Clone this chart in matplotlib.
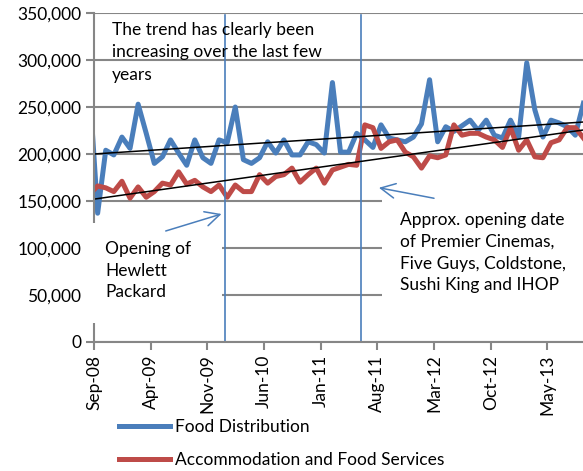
import numpy as np
import pandas as pd
import matplotlib
matplotlib.use('Agg')
import matplotlib.pyplot as plt
from matplotlib.patches import Rectangle
from matplotlib.ticker import StrMethodFormatter

plt.rcParams['font.family'] = ['Lato', 'DejaVu Sans']

# monthly figures Aug-08 .. Sep-13 (Aug-08 sits just left of the axis start)
months = pd.date_range('2008-08-01', '2013-09-01', freq='MS')
food_distribution = [
    270000, 137000, 204000, 199000, 218000, 206000, 253000, 222000, 190000, 197000,
    215000, 201000, 188000, 215000, 196000, 190000, 215000, 212000, 250000, 194000,
    190000, 196000, 213000, 201000, 215000, 199000, 199000, 213000, 210000, 201000,
    276000, 202000, 202000, 222000, 215000, 207000, 231000, 217000, 215000, 213000,
    218000, 232000, 279000, 213000, 229000, 224000, 230000, 236000, 225000, 236000,
    220000, 217000, 236000, 218000, 297000, 247000, 218000, 236000, 233000, 229000,
    220000, 254000,
]
accommodation_food = [
    157000, 166000, 164000, 160000, 171000, 153000, 165000, 154000, 160000, 169000,
    167000, 181000, 168000, 172000, 165000, 160000, 167000, 154000, 167000, 160000,
    160000, 178000, 169000, 176000, 178000, 185000, 170000, 178000, 185000, 169000,
    183000, 186000, 189000, 188000, 231000, 228000, 206000, 213000, 215000, 202000,
    197000, 185000, 198000, 196000, 199000, 231000, 220000, 222000, 222000, 218000,
    215000, 207000, 228000, 204000, 215000, 197000, 196000, 212000, 215000, 228000,
    228000, 217000,
]
# linear trend values at the left and right edge of the axis
trend_food = [200000, 234000]
trend_accommodation = [152000, 225500]
tick_labels = ['Sep-08', 'Apr-09', 'Nov-09', 'Jun-10', 'Jan-11',
               'Aug-11', 'Mar-12', 'Oct-12', 'May-13']
event_months = [16.2, 32.95]  # months after Sep-08 of the two openings

blue = '#4a7ebb'
red = '#be4b48'
grey = '#868686'
fs = 12.5

fig = plt.figure(figsize=(5.83, 4.71), dpi=100)
ax = fig.add_axes([94 / 583, 129 / 471, 489 / 583, 329 / 471])

# months since Sep-08, points sit a little past the month tick
x = (months.year - 2008) * 12 + months.month - 9 + 0.45
x = np.asarray(x, dtype=float)
x_end = 60.4

ax.plot(x, food_distribution, color=blue, lw=3.6, label='Food Distribution')
ax.plot(x, accommodation_food, color=red, lw=3.6,
        label='Accommodation and Food Services')

xx = [0, x_end]
ax.plot(xx, trend_food, color='black', lw=1.1, zorder=2.2)
ax.plot(xx, trend_accommodation, color='black', lw=1.1, zorder=2.2)

for m in event_months:
    ax.axvline(m, ymax=0.994, color=blue, lw=1.2, zorder=2.1)

ax.set_xlim(0, x_end)
ax.set_ylim(0, 350000)
ax.set_yticks(np.arange(0, 350001, 50000))
ax.yaxis.set_major_formatter(StrMethodFormatter('{x:,.0f}'))
ax.set_xticks(np.arange(0, 61, 7))
ax.set_xticklabels(tick_labels, rotation=90)

ax.grid(axis='y', color=grey, lw=1.5)
ax.set_axisbelow(True)
for side in ('top', 'right'):
    ax.spines[side].set_visible(False)
for side in ('left', 'bottom'):
    ax.spines[side].set_color(grey)
    ax.spines[side].set_linewidth(1.5)
ax.tick_params(color=grey, width=1.5, length=6, labelsize=fs, pad=3)

# white text boxes hiding the grid behind the notes
ax.add_patch(Rectangle((-0.0164, 0.0578), 0.2782, 0.3039, transform=ax.transAxes,
                       facecolor='white', edgecolor='none', clip_on=False, zorder=3))
ax.add_patch(Rectangle((0.589, 0.0365), 0.5, 0.41, transform=ax.transAxes,
                       facecolor='white', edgecolor='none', clip_on=False, zorder=3))

ax.text(0.0368, 0.88, 'The trend has clearly been\nincreasing over the last few\nyears',
        transform=ax.transAxes, fontsize=fs, va='center', ha='left',
        linespacing=1.5, zorder=4)
ax.text(0.0225, 0.2173, 'Opening of\nHewlett\nPackard',
        transform=ax.transAxes, fontsize=fs, va='center', ha='left',
        linespacing=1.45, zorder=4)
ax.text(0.6258, 0.2714, 'Approx. opening date\nof Premier Cinemas,\nFive Guys, Coldstone,\nSushi King and IHOP',
        transform=ax.transAxes, fontsize=fs, va='center', ha='left',
        linespacing=1.45, zorder=4)

arrow = dict(arrowstyle='->,head_length=0.7,head_width=0.35', color=blue,
             lw=1.1, shrinkA=0, shrinkB=0, mutation_scale=15)
ax.annotate('', xy=(15.75, 136200), xytext=(8.86, 118100),
            arrowprops=arrow, zorder=5)
ax.annotate('', xy=(35.19, 164100), xytext=(42.0, 152900),
            arrowprops=arrow, zorder=5)

fig.legend(loc='upper left', bbox_to_anchor=(119 / 583, 1 - 419 / 471),
           frameon=False, fontsize=fs, handlelength=2.95, handletextpad=0.26,
           labelspacing=1.0, borderpad=0, borderaxespad=0)

fig.savefig('out.png', dpi=100)
